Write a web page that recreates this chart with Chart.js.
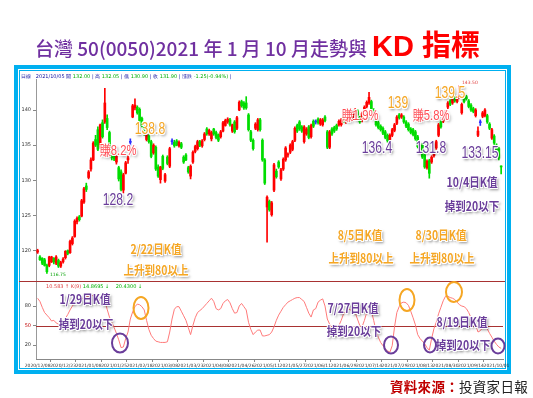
<!DOCTYPE html>
<html><head><meta charset="utf-8">
<script src="https://cdn.jsdelivr.net/npm/chart.js@4"></script>
<style>
html,body{margin:0;padding:0;background:#fff;}
body{width:533px;height:398px;position:relative;overflow:hidden;font-family:"Noto Sans CJK TC","Noto Sans",sans-serif;}
#frame{position:absolute;left:14px;top:65px;width:497px;height:309px;box-sizing:border-box;border:4px solid #00B0F0;background:#fff;}
#frame2{position:absolute;left:1px;top:1px;right:1px;bottom:1px;border:1px solid #00B0F0;}
canvas{position:absolute;left:0;top:0;z-index:1;}
#title{position:absolute;left:35px;top:22px;white-space:nowrap;z-index:2;}
#title .t1{color:#7030A0;font-size:19px;font-weight:500;vertical-align:baseline;}
#title .t2{color:#FF0000;font-size:29px;font-weight:700;font-family:"Liberation Sans","Noto Sans CJK TC",sans-serif;margin-left:5px;}
#title .t2 .cj{font-family:"Noto Sans CJK TC";}
#foot{position:absolute;left:390px;top:376px;font-size:13.5px;white-space:nowrap;z-index:2;letter-spacing:0.3px;}
#foot .a{color:#C00000;font-weight:700;}
#foot .b{color:#222;}
.hdr{position:absolute;font-size:5px;white-space:nowrap;z-index:2;font-family:"DejaVu Sans",sans-serif;line-height:6px;}
.an{position:absolute;z-index:3;white-space:nowrap;transform:translate(-50%,-50%) scaleX(.8);line-height:1;
 text-shadow:-1px -1px 0 #fff,1px -1px 0 #fff,-1px 1px 0 #fff,1px 1px 0 #fff,0 -1px 0 #fff,0 1px 0 #fff,2px 2px 3px rgba(0,0,0,.55);}
.num{font-family:"Liberation Sans","Noto Sans CJK TC",sans-serif;font-size:16px;transform:translate(-50%,-50%) scaleX(.76);}
.pk{color:#FF4D55;font-size:14px;font-family:"Liberation Sans","Noto Sans CJK TC",sans-serif;}
.or{color:#F5A623;}
.pu{color:#6A3D9A;}
.bd{font-weight:700;font-size:12.5px;font-family:"Noto Sans CJK TC",sans-serif;transform:translate(-50%,-50%) scaleX(.84);}
.cir{position:absolute;z-index:3;border-radius:50%;border:2px solid;box-sizing:border-box;transform:translate(-50%,-50%);}
.cp{border-color:#6A3D9A;}
.co{border-color:#F5A623;}
.tiny{position:absolute;z-index:3;font-size:4.5px;font-family:"DejaVu Sans",sans-serif;white-space:nowrap;}
</style></head>
<body>
<div id="title"><span class="t1">台灣 50(0050)2021 年 1 月 10 月走勢與</span><span class="t2">KD <span class="cj">指標</span></span></div>
<div id="frame"><div id="frame2"></div></div>
<canvas id="c" width="533" height="398"></canvas>

<div class="hdr" style="left:21px;top:73px;"><span style="color:#1010A0">日線</span>&nbsp;&nbsp;&nbsp;<span style="color:#1010A0">2021/10/05 開</span> <span style="color:#00B000">132.00</span> <span style="color:#1010A0">| 高</span> <span style="color:#00B000">132.05</span> <span style="color:#1010A0">| 低</span> <span style="color:#00B000">130.90</span> <span style="color:#1010A0">| 收</span> <span style="color:#00B000">131.90</span> <span style="color:#1010A0">| 漲跌</span> <span style="color:#00B000">-1.25(-0.94%)</span> <span style="color:#1010A0">|</span></div>
<div class="hdr" style="left:46px;top:283px;"><span style="color:#E04040">10.583 ↑ K(9)</span> <span style="color:#00B000">14.8695 ↓</span>&nbsp;&nbsp;&nbsp;&nbsp;<span style="color:#00B000">20.4300 ↓</span></div>

<div class="tiny" style="left:50px;top:272px;color:#00A000">116.75</div>
<div class="tiny" style="left:462px;top:80px;color:#E04040">143.50</div>

<div class="an pk" style="left:118px;top:150px;">賺8.2%</div>
<div class="an num pu" style="left:118px;top:200px;">128.2</div>
<div class="an num or" style="left:150px;top:129px;">138.8</div>
<div class="an bd or" style="left:156px;top:249px;">2/22日K值</div>
<div class="an bd or" style="left:156px;top:270px;">上升到80以上</div>

<div class="an pk" style="left:360px;top:115px;">賺1.9%</div>
<div class="an num or" style="left:398px;top:103px;">139</div>
<div class="an pk" style="left:431px;top:115px;">賺5.8%</div>
<div class="an num pu" style="left:377px;top:148px;">136.4</div>
<div class="an num pu" style="left:431px;top:148px;">131.8</div>
<div class="an num or" style="left:450px;top:93px;">139.5</div>
<div class="an num pu" style="left:480px;top:153px;">133.15</div>
<div class="an bd pu" style="left:472px;top:182px;">10/4日K值</div>
<div class="an bd pu" style="left:472px;top:206px;">掉到20以下</div>
<div class="an bd or" style="left:360px;top:235px;">8/5日K值</div>
<div class="an bd or" style="left:361px;top:258px;">上升到80以上</div>
<div class="an bd or" style="left:441px;top:235px;">8/30日K值</div>
<div class="an bd or" style="left:442px;top:258px;">上升到80以上</div>

<div class="an bd pu" style="left:85px;top:299px;">1/29日K值</div>
<div class="an bd pu" style="left:86px;top:324px;">掉到20以下</div>
<div class="an bd pu" style="left:353px;top:308px;">7/27日K值</div>
<div class="an bd pu" style="left:354px;top:331px;">掉到20以下</div>
<div class="an bd pu" style="left:462px;top:322px;">8/19日K值</div>
<div class="an bd pu" style="left:463px;top:345px;">掉到20以下</div>

<div class="cir cp" style="left:120px;top:343px;width:18px;height:21px;"></div>
<div class="cir co" style="left:141px;top:308px;width:17px;height:24px;"></div>
<div class="cir cp" style="left:391px;top:345px;width:16px;height:19px;"></div>
<div class="cir co" style="left:407px;top:300px;width:17px;height:24px;"></div>
<div class="cir co" style="left:454px;top:292px;width:18px;height:22px;"></div>
<div class="cir cp" style="left:430px;top:345px;width:14px;height:17px;"></div>
<div class="cir cp" style="left:498px;top:346px;width:15px;height:17px;"></div>

<div id="foot"><span class="a">資料來源：</span><span class="b">投資家日報</span></div>

<script>
const tickLabels = ['2020/12/08','2020/12/23','2021/01/08','2021/01/25','2021/02/18','2021/03/08','2021/03/23','2021/04/08','2021/04/26','2021/05/11','2021/05/27','2021/06/11','2021/06/29','2021/07/14','2021/07/29','2021/08/13','2021/08/30','2021/09/14','2021/10/01'];
const tickEvery = 11;
const priceTicks = [120,125,130,135,140];
const kdTicks = [20,40,50,60,80,100];

const open = [
119.8,119.1,118.9,118.7,117.9,117.9,118.4,118.9,118.2,118.6,
117.8,118.4,119.0,120.0,119.7,121.0,122.0,124.1,124.8,124.9,
126.9,129.2,130.4,131.6,132.9,135.8,137.2,134.7,138.2,138.3,
138.8,136.8,134.2,133.6,132.6,131.8,131.2,128.6,131.0,132.9,
135.4,139.0,140.3,140.4,140.1,138.8,137.5,135.8,136.3,135.5,
133.9,134.7,131.9,130.1,133.4,129.9,133.3,132.0,135.5,135.4,
135.6,134.9,135.2,133.3,133.6,131.8,130.6,132.6,134.1,134.5,
135.5,134.9,135.8,137.3,136.6,135.9,137.3,136.8,136.5,136.2,
137.0,137.8,138.3,138.6,137.0,138.3,137.4,140.0,141.2,141.0,
141.0,139.3,136.9,135.7,137.4,137.2,138.6,135.7,132.9,126.2,
127.0,125.1,128.6,131.3,132.6,130.2,131.6,132.9,133.6,134.0,
134.4,135.7,137.8,138.3,137.6,135.5,136.6,137.6,136.2,138.4,
138.3,138.7,138.0,137.9,139.0,136.9,134.7,137.3,137.5,137.8,
137.9,137.9,139.0,138.3,138.8,139.5,138.7,139.5,139.9,138.9,
138.5,139.6,140.5,141.0,141.2,140.0,138.7,138.2,137.7,137.4,
136.9,136.4,135.8,136.4,137.1,138.1,139.3,139.0,139.0,138.3,
138.0,137.3,137.2,136.9,136.2,134.4,135.0,133.6,131.8,132.8,
132.6,133.5,134.6,136.4,138.3,138.4,139.0,140.4,141.3,141.0,
141.8,141.2,141.8,139.6,141.8,141.9,141.3,140.7,140.2,139.2,
136.4,138.2,139.1,139.2,139.2,138.0,136.0,136.3,135.0,134.5,
132.0];
const high = [
120.2,119.3,119.0,118.9,118.1,119.2,119.2,119.0,119.3,118.8,
118.5,119.0,120.0,120.1,121.5,122.0,124.4,124.8,125.0,127.3,
129.0,129.6,131.4,133.2,135.5,136.4,137.6,138.0,138.6,143.1,
139.3,137.0,134.6,134.0,133.6,132.0,131.5,131.0,132.7,133.5,
135.9,140.8,141.6,140.6,140.3,139.0,137.7,136.8,136.5,135.7,
135.2,134.9,132.2,132.0,133.6,131.0,133.5,134.7,135.9,135.7,
135.8,135.6,135.4,133.5,133.8,132.0,132.2,134.2,135.0,135.7,
135.7,135.8,136.8,137.5,137.3,137.0,137.4,137.0,136.6,137.1,
138.4,138.7,138.9,138.8,138.0,138.5,139.1,141.3,141.4,141.2,
141.9,139.5,137.1,135.9,138.2,138.8,138.8,135.9,133.1,127.8,
127.2,127.0,132.4,131.6,132.8,131.7,133.2,134.8,133.9,135.2,
135.7,137.6,138.0,138.5,137.8,137.8,137.5,137.8,138.0,138.6,
138.6,138.9,138.8,138.8,139.2,137.1,137.1,137.5,137.7,138.0,
138.6,138.8,139.2,139.1,139.6,139.7,139.8,140.2,140.1,139.1,
139.7,140.6,141.3,142.5,141.4,140.2,138.9,138.4,137.9,137.6,
137.1,136.6,136.6,137.4,138.1,139.2,139.5,139.5,139.2,138.5,
138.2,137.5,137.4,137.1,136.4,135.1,135.2,133.8,132.9,133.0,
133.5,134.2,135.7,138.1,138.5,139.3,139.9,141.2,141.5,141.9,
142.0,142.0,143.5,141.0,142.0,142.1,141.5,140.9,140.4,140.2,
137.6,138.6,139.8,140.2,139.4,138.2,137.4,136.5,135.2,134.7,
132.05];
const low = [
119.6,118.6,118.0,117.8,116.75,117.7,118.3,118.1,118.0,117.6,
117.6,118.2,118.8,119.4,119.6,120.8,121.9,123.8,124.2,124.8,
126.7,128.4,130.2,131.3,132.8,134.8,134.2,134.5,136.0,138.1,
137.2,134.1,132.9,132.8,132.3,129.9,128.5,128.2,130.9,132.4,
134.9,138.9,140.0,139.4,138.3,137.6,136.4,135.6,135.3,133.2,
133.7,131.4,130.4,129.6,131.5,129.7,132.2,131.8,135.1,134.7,
134.9,134.7,134.5,132.4,132.8,131.0,130.2,132.4,133.9,134.3,
134.8,134.7,135.6,136.4,136.4,135.6,136.4,135.9,135.5,136.0,
136.9,137.7,138.1,137.7,136.8,136.7,137.2,139.9,140.4,140.1,
140.1,137.0,135.5,134.3,137.2,137.0,137.0,132.7,129.4,121.2,
125.6,124.9,128.4,130.3,131.7,130.0,131.4,132.7,133.3,133.8,
134.2,135.5,136.8,137.1,136.8,135.3,136.4,135.9,136.0,137.5,
138.0,138.0,137.8,137.7,138.3,134.5,134.5,136.4,136.8,137.1,
137.7,137.7,138.2,138.1,138.6,138.6,138.5,139.3,139.1,138.1,
138.3,139.4,140.3,140.8,140.0,139.0,137.7,137.3,137.0,136.5,
135.9,135.4,135.6,136.2,136.9,137.9,138.7,138.8,138.1,137.5,
137.0,136.6,136.3,135.7,134.6,134.2,133.1,131.7,131.6,130.3,
132.4,133.3,134.4,136.2,137.4,138.2,138.8,140.2,140.6,140.8,
141.1,141.0,141.6,139.4,141.0,141.4,140.3,139.8,139.6,139.0,
136.2,137.8,138.9,139.0,138.1,137.2,135.8,135.1,133.8,132.9,
130.9];
const close = [
120.0,118.7,118.2,117.9,117.0,119.1,119.1,118.4,119.1,117.8,
118.3,118.8,119.9,119.6,121.3,121.8,124.2,124.6,124.4,127.1,
128.8,128.7,131.2,132.9,135.3,135.0,134.4,137.9,136.2,141.0,
137.5,134.3,133.2,133.0,133.4,130.2,128.7,130.8,132.5,133.2,
135.4,140.6,140.7,139.6,138.5,137.8,136.6,136.5,135.5,133.4,
135.0,131.6,130.6,131.9,131.7,130.8,132.4,134.5,135.5,134.9,
135.0,135.4,134.7,132.6,132.9,131.2,132.0,134.0,134.8,135.5,
135.0,135.6,136.6,136.6,137.1,136.8,136.6,136.1,135.7,136.9,
138.2,138.5,138.7,137.9,137.9,136.9,138.9,141.1,140.6,140.3,
140.3,137.2,135.7,134.5,138.0,138.6,137.2,132.9,129.6,127.6,
125.8,126.8,132.2,130.5,131.9,131.5,133.0,134.6,133.7,135.0,
135.5,137.4,137.0,137.3,137.0,137.6,137.3,136.1,137.8,137.7,
138.3,138.2,138.6,138.6,138.5,134.7,136.9,136.6,137.0,137.3,
138.4,138.6,138.4,138.9,139.4,138.8,139.6,140.0,139.3,138.3,
139.5,140.4,141.1,141.8,140.2,139.2,137.9,137.5,137.2,136.7,
136.1,135.6,136.4,137.2,137.9,139.0,138.9,139.3,138.3,137.7,
137.2,136.8,136.5,135.9,134.8,134.9,133.3,131.9,132.7,131.0,
133.3,134.0,135.5,137.9,137.6,139.1,139.7,141.0,140.8,141.7,
141.3,141.8,142.0,140.8,141.2,141.6,140.5,140.0,139.8,140.0,
137.0,138.2,139.6,140.0,138.3,137.4,137.2,135.3,134.0,133.15,
131.9];
const kValue = [
92,87,78,70,66,62,57,58,54,52,
51,55,61,67,74,80,85,88,90,91,
93,94,95,96,96,93,90,89,87,88,
75,63,55,47,38,28,16,17,30,40,
60,71,79,83,82,79,74,58,44,35,
30,26,25,24,24,24,25,40,60,75,
79,79,72,65,58,47,36,50,62,70,
73,76,80,84,88,92,87,76,74,76,
84,88,90,85,76,69,70,80,84,79,
74,55,44,36,40,43,43,34,34,35,
36,40,48,58,66,72,78,82,86,88,
90,92,93,93,90,87,78,69,63,74,
76,86,89,91,80,60,52,46,44,46,
50,58,68,72,76,74,76,70,60,50,
48,58,70,80,72,58,42,32,24,19,
14,11,9,19,48,70,79,85,86,85,
81,72,62,51,36,30,26,22,16,12,
30,45,55,68,78,88,95,95,93,92,
90,86,82,80,79,76,70,62,55,52,
40,42,47,50,45,38,32,26,21,17,
14.87];

const UP='#FF0000', DOWN='#00DD00', FLAT='#2E2EFF';
const colors = open.map((o,i)=> close[i]>o ? UP : (close[i]<o ? DOWN : FLAT));
const wickData = open.map((o,i)=>({x:i, y:[low[i], high[i]]}));
const bodyData = open.map((o,i)=>({x:i, y:[o, close[i]]}));
const kData = kValue.map((v,i)=>({x:i, y:v}));

const linesPlugin = {
  id:'panelLines',
  beforeDatasetsDraw(chart){
    const {ctx, chartArea, scales} = chart;
    ctx.save();
    ctx.strokeStyle = '#A83232';
    ctx.lineWidth = 1;
    const ySep = Math.round(scales.y.bottom) + 0.5;
    ctx.beginPath(); ctx.moveTo(19, ySep); ctx.lineTo(505, ySep); ctx.stroke();
    const y50 = Math.round(scales.y2.getPixelForValue(50)) + 0.5;
    ctx.beginPath(); ctx.moveTo(chartArea.left, y50); ctx.lineTo(chartArea.right, y50); ctx.stroke();
    ctx.restore();
  }
};

new Chart(document.getElementById('c'), {
  type:'bar',
  data:{datasets:[
    {type:'line', data:kData, yAxisID:'y2', borderColor:'#FF7A7A', borderWidth:1, pointRadius:0, tension:0, order:0},
    {data:wickData, yAxisID:'y', backgroundColor:colors, barThickness:1, grouped:false, order:2},
    {data:bodyData, yAxisID:'y', backgroundColor:colors, barThickness:2, minBarLength:1, grouped:false, order:1}
  ]},
  options:{
    responsive:false, animation:false, devicePixelRatio:1,
    layout:{padding:{top:79,left:0,right:30,bottom:0}},
    plugins:{legend:{display:false}, tooltip:{enabled:false}},
    scales:{
      y2:{type:'linear', position:'left', stack:'panes', stackWeight:78, min:-1.5, max:118.5,
        afterFit:s=>{s.width=36;},
        afterBuildTicks:s=>{s.ticks = kdTicks.map(v=>({value:v}));},
        ticks:{font:{size:5, family:'DejaVu Sans'}, color:c=> c.tick && c.tick.value===50 ? '#C00000' : '#333', padding:2},
        grid:{drawOnChartArea:false, tickLength:3, color:'#888'},
        border:{color:'#999'}},
      y:{type:'linear', position:'left', stack:'panes', stackWeight:202, min:115.68, max:144.41,
        afterFit:s=>{s.width=36;},
        afterBuildTicks:s=>{s.ticks = priceTicks.map(v=>({value:v}));},
        ticks:{font:{size:5, family:'DejaVu Sans'}, color:'#333', padding:2},
        grid:{drawOnChartArea:false, tickLength:3, color:'#888'},
        border:{color:'#999'}},
      x:{type:'linear', min:-0.7, max:200.8, offset:false,
        afterFit:s=>{s.height=39;},
        afterBuildTicks:s=>{s.ticks = tickLabels.map((t,i)=>({value:i*tickEvery}));},
        ticks:{autoSkip:false, maxRotation:0, font:{size:4.5, family:'DejaVu Sans'}, color:'#333', padding:1,
          callback:v=> tickLabels[Math.round(v/tickEvery)] || ''},
        grid:{drawOnChartArea:false, tickLength:3, color:'#888'},
        border:{color:'#888'}}
    }
  },
  plugins:[linesPlugin]
});
</script>
</body></html>
